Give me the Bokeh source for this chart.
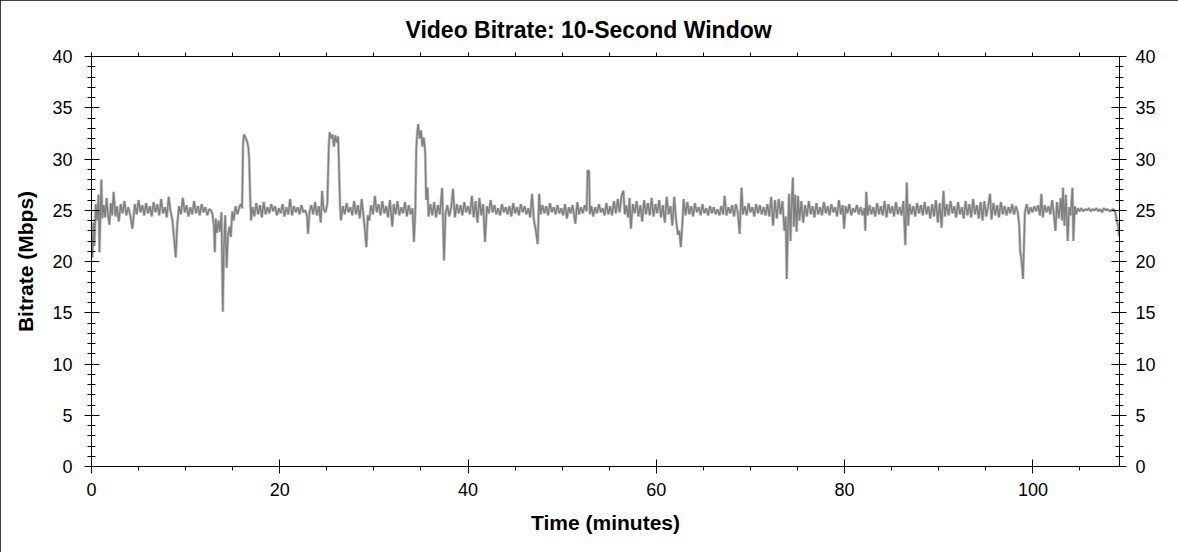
from bokeh.plotting import figure
from bokeh.models import LinearAxis, SingleIntervalTicker, FixedTicker, Range1d, Title
from bokeh.embed import file_html
from bokeh.resources import INLINE

# Time (minutes) and bitrate (Mbps)
minutes = [
    0.0, 0.1, 0.2, 0.3, 0.45, 0.6, 0.75, 0.85, 0.95, 1.05, 1.15, 1.3, 1.45, 1.6, 1.75, 1.9, 2.05, 2.2, 2.35, 2.55,
    2.7, 2.9, 3.1, 3.3, 3.5, 3.7, 3.9, 4.1, 4.35, 4.6, 4.8, 5.0, 5.2, 5.4, 5.6, 5.8, 6.0, 6.2, 6.4, 6.6,
    6.8, 7.0, 7.2, 7.4, 7.6, 7.8, 8.0, 8.2, 8.4, 8.6, 8.8, 8.95, 9.1, 9.3, 9.5, 9.7, 9.9, 10.1, 10.3, 10.5,
    10.7, 10.9, 11.1, 11.3, 11.5, 11.7, 11.9, 12.1, 12.3, 12.5, 12.7, 12.85, 13.0, 13.1, 13.2, 13.35, 13.5, 13.65, 13.8, 13.95,
    14.05, 14.2, 14.35, 14.5, 14.65, 14.8, 14.95, 15.1, 15.3, 15.5, 15.7, 15.85, 16.0, 16.1, 16.2, 16.35, 16.5, 16.65, 16.75, 16.85,
    16.95, 17.1, 17.3, 17.5, 17.7, 17.9, 18.1, 18.3, 18.5, 18.7, 18.9, 19.1, 19.3, 19.5, 19.7, 19.9, 20.1, 20.3, 20.5, 20.7,
    20.9, 21.1, 21.3, 21.5, 21.7, 21.9, 22.1, 22.3, 22.5, 22.7, 22.9, 23.0, 23.15, 23.35, 23.55, 23.75, 23.95, 24.15, 24.35, 24.5,
    24.65, 24.85, 25.05, 25.2, 25.3, 25.45, 25.6, 25.75, 25.9, 26.05, 26.2, 26.3, 26.4, 26.5, 26.7, 26.9, 27.1, 27.3, 27.5, 27.7,
    27.9, 28.1, 28.3, 28.5, 28.7, 28.9, 29.05, 29.2, 29.35, 29.5, 29.7, 29.9, 30.1, 30.3, 30.5, 30.7, 30.9, 31.1, 31.3, 31.5,
    31.7, 31.95, 32.1, 32.3, 32.5, 32.7, 32.9, 33.1, 33.3, 33.5, 33.7, 33.9, 34.1, 34.25, 34.4, 34.5, 34.6, 34.7, 34.85, 35.0,
    35.15, 35.3, 35.45, 35.55, 35.7, 35.8, 36.0, 36.2, 36.4, 36.6, 36.8, 37.0, 37.25, 37.45, 37.6, 37.8, 38.0, 38.2, 38.4, 38.6,
    38.8, 39.0, 39.2, 39.4, 39.6, 39.8, 40.0, 40.2, 40.4, 40.6, 40.8, 41.0, 41.2, 41.4, 41.6, 41.8, 42.0, 42.2, 42.4, 42.6,
    42.8, 43.0, 43.2, 43.4, 43.6, 43.8, 44.0, 44.2, 44.4, 44.6, 44.8, 45.0, 45.2, 45.4, 45.6, 45.8, 46.0, 46.2, 46.4, 46.6,
    46.8, 47.0, 47.2, 47.4, 47.55, 47.7, 47.9, 48.1, 48.3, 48.5, 48.7, 48.9, 49.1, 49.3, 49.5, 49.7, 49.9, 50.1, 50.3, 50.5,
    50.7, 50.9, 51.1, 51.4, 51.6, 51.8, 52.0, 52.2, 52.4, 52.6, 52.7, 52.85, 52.95, 53.1, 53.3, 53.5, 53.7, 53.9, 54.1, 54.3,
    54.5, 54.7, 54.9, 55.1, 55.3, 55.5, 55.7, 55.9, 56.1, 56.3, 56.5, 56.65, 56.8, 57.0, 57.15, 57.3, 57.5, 57.7, 57.9, 58.1,
    58.3, 58.5, 58.7, 58.9, 59.1, 59.3, 59.5, 59.7, 59.9, 60.1, 60.3, 60.5, 60.7, 60.9, 61.1, 61.3, 61.5, 61.7, 61.9, 62.1,
    62.3, 62.45, 62.6, 62.75, 62.9, 63.1, 63.3, 63.5, 63.7, 63.9, 64.1, 64.3, 64.5, 64.7, 64.9, 65.1, 65.3, 65.5, 65.7, 65.9,
    66.1, 66.3, 66.5, 66.7, 66.9, 67.1, 67.25, 67.45, 67.65, 67.85, 68.05, 68.25, 68.45, 68.65, 68.85, 69.05, 69.2, 69.4, 69.6, 69.8,
    70.0, 70.2, 70.4, 70.6, 70.8, 71.0, 71.2, 71.4, 71.6, 71.8, 72.0, 72.2, 72.4, 72.6, 72.8, 73.0, 73.2, 73.4, 73.6, 73.75,
    73.85, 73.95, 74.1, 74.25, 74.35, 74.5, 74.6, 74.75, 74.9, 75.05, 75.2, 75.4, 75.6, 75.8, 76.0, 76.2, 76.4, 76.6, 76.8, 77.0,
    77.2, 77.4, 77.6, 77.8, 78.0, 78.2, 78.4, 78.6, 78.8, 79.0, 79.2, 79.4, 79.6, 79.8, 79.95, 80.1, 80.3, 80.5, 80.7, 80.9,
    81.1, 81.3, 81.5, 81.7, 81.9, 82.1, 82.2, 82.3, 82.45, 82.65, 82.85, 83.05, 83.25, 83.45, 83.65, 83.85, 84.05, 84.25, 84.45, 84.65,
    84.85, 85.05, 85.25, 85.45, 85.65, 85.85, 86.05, 86.25, 86.45, 86.6, 86.75, 86.9, 87.1, 87.3, 87.5, 87.7, 87.9, 88.1, 88.3, 88.5,
    88.7, 88.9, 89.1, 89.3, 89.5, 89.7, 89.9, 90.1, 90.3, 90.5, 90.65, 90.85, 91.05, 91.25, 91.45, 91.65, 91.85, 92.05, 92.25, 92.45,
    92.65, 92.85, 93.05, 93.25, 93.45, 93.65, 93.85, 94.05, 94.25, 94.45, 94.65, 94.85, 95.05, 95.25, 95.45, 95.6, 95.8, 96.0, 96.2, 96.4,
    96.6, 96.8, 97.0, 97.2, 97.4, 97.6, 97.8, 98.0, 98.2, 98.4, 98.55, 98.65, 98.75, 98.85, 98.95, 99.05, 99.15, 99.35, 99.55, 99.75,
    99.95, 100.15, 100.35, 100.55, 100.75, 100.9, 101.05, 101.25, 101.45, 101.65, 101.85, 102.05, 102.25, 102.4, 102.55, 102.75, 102.95, 103.1, 103.2, 103.35,
    103.5, 103.7, 103.85, 104.0, 104.2, 104.3, 104.45, 104.6, 104.75, 104.95, 105.15, 105.35, 105.55, 105.75, 105.95, 106.15, 106.35, 106.55, 106.75, 106.95,
    107.15, 107.35, 107.55, 107.75, 107.95, 108.15, 108.35, 108.55, 108.75, 108.9, 109.05, 109.15,
]

mbps = [
    22.5, 20.4, 23.8, 21.5, 25.6, 24.0, 26.5, 20.9, 25.0, 28.0, 24.2, 25.5, 24.3, 26.2, 24.6, 23.6, 25.7, 24.5, 26.8, 24.4,
    25.4, 23.9, 25.6, 24.7, 25.9, 24.5, 25.3, 24.6, 23.2, 25.6, 24.6, 26.0, 24.8, 25.5, 24.5, 25.7, 24.7, 25.4, 24.4, 25.8,
    24.8, 25.6, 24.5, 26.1, 24.7, 25.3, 24.3, 26.3, 24.9, 24.0, 22.0, 20.4, 23.5, 25.4, 24.6, 26.2, 24.8, 25.5, 24.4, 25.3,
    24.6, 25.9, 24.7, 25.4, 24.5, 25.6, 24.8, 25.3, 24.5, 25.1, 25.0, 24.6, 23.5, 20.9, 24.2, 22.8, 24.0, 22.9, 24.8, 15.1,
    21.0, 24.5, 19.4, 22.5, 23.4, 22.4, 24.9, 24.0, 25.4, 24.6, 25.3, 25.6, 25.2, 31.5, 32.4, 32.1, 31.8, 31.2, 30.0, 26.5,
    24.0, 25.3, 24.4, 25.7, 24.6, 25.5, 24.3, 25.8, 24.6, 25.3, 24.7, 25.6, 24.9, 25.4, 24.5, 25.2, 24.7, 25.6, 24.4, 25.3,
    24.6, 26.1, 24.5, 25.4, 24.8, 25.3, 24.6, 25.5, 24.8, 25.0, 24.4, 22.7, 24.8, 25.5, 24.6, 25.8, 24.5, 25.4, 23.8, 26.9,
    25.1, 24.8, 25.6, 31.0, 32.6, 32.0, 32.4, 31.2, 32.3, 31.6, 32.2, 29.0, 25.5, 24.0, 25.4, 24.6, 25.7, 24.8, 25.3, 24.5,
    25.9, 24.6, 25.5, 24.2, 26.1, 24.4, 23.0, 21.4, 24.5, 24.0, 25.5, 24.6, 26.4, 24.8, 25.6, 24.5, 25.9, 24.7, 25.4, 24.3,
    26.0, 23.4, 25.6, 24.6, 25.9, 24.5, 25.3, 24.7, 25.8, 24.4, 25.5, 24.6, 25.2, 21.9, 25.0, 31.0, 32.5, 33.4, 32.0, 32.8,
    31.2, 32.1, 30.6, 26.0, 27.2, 24.4, 25.6, 24.5, 25.8, 24.3, 25.5, 24.6, 27.2, 20.1, 24.6, 25.5, 24.4, 25.2, 27.1, 24.3,
    25.6, 24.7, 25.5, 24.5, 25.8, 24.8, 25.4, 24.6, 26.4, 24.3, 25.9, 23.8, 26.2, 24.5, 25.6, 21.9, 25.4, 24.7, 26.0, 24.8,
    25.5, 24.6, 25.2, 24.5, 25.6, 24.8, 25.3, 24.6, 25.4, 24.4, 25.7, 24.7, 25.3, 24.5, 25.6, 24.8, 25.4, 24.6, 25.2, 24.3,
    26.6, 24.0, 23.0, 21.7, 26.6, 24.6, 25.5, 24.7, 25.4, 24.5, 25.7, 24.8, 25.3, 24.6, 25.5, 24.7, 25.2, 24.5, 25.6, 24.2,
    25.3, 24.7, 25.5, 23.7, 25.8, 24.6, 25.3, 24.7, 25.5, 24.9, 28.9, 28.8, 24.6, 25.4, 24.4, 25.3, 24.7, 25.6, 24.8, 25.2,
    24.5, 25.7, 24.6, 25.4, 24.5, 25.9, 24.7, 26.1, 24.8, 26.4, 26.9, 24.6, 25.5, 24.3, 26.2, 23.2, 25.6, 24.7, 25.9, 24.4,
    25.5, 23.9, 26.0, 24.6, 25.7, 24.5, 26.2, 24.4, 25.6, 24.7, 26.0, 24.3, 25.5, 23.8, 26.3, 24.6, 25.4, 23.5, 26.3, 24.0,
    22.6, 23.0, 21.4, 23.5, 26.1, 24.5, 25.8, 24.6, 25.4, 24.4, 25.7, 24.8, 25.3, 24.5, 25.6, 24.7, 25.2, 24.5, 25.4, 24.7,
    25.3, 24.6, 25.1, 24.5, 25.4, 24.6, 26.4, 24.5, 25.3, 24.7, 25.5, 24.4, 25.6, 24.8, 22.7, 27.2, 24.6, 25.4, 24.5, 25.7,
    24.8, 25.3, 24.4, 25.6, 24.7, 25.5, 24.6, 25.3, 24.5, 25.6, 24.4, 26.3, 23.5, 26.0, 24.2, 26.1, 24.6, 25.9, 23.0, 24.4,
    18.3, 22.5, 26.6, 22.0, 25.3, 28.2, 23.4, 26.5, 22.9, 26.4, 24.0, 25.9, 23.8, 25.5, 24.4, 25.9, 24.6, 25.4, 24.3, 25.7,
    24.6, 25.3, 24.5, 25.8, 24.7, 25.4, 24.5, 25.6, 24.8, 25.3, 24.4, 26.0, 24.6, 25.5, 23.2, 25.4, 24.7, 25.6, 24.5, 25.2,
    24.8, 25.5, 24.6, 25.3, 24.5, 25.2, 23.0, 26.8, 24.5, 25.5, 24.6, 25.3, 24.4, 25.7, 24.6, 25.4, 24.5, 25.9, 24.3, 25.6,
    24.7, 25.4, 24.4, 25.8, 24.6, 25.3, 24.5, 25.9, 21.6, 27.7, 23.5, 25.6, 24.6, 25.4, 24.4, 25.7, 24.7, 25.5, 24.5, 25.8,
    24.6, 25.4, 24.2, 25.6, 24.4, 26.0, 23.8, 25.7, 23.3, 26.9, 24.4, 25.6, 24.5, 25.9, 24.7, 25.4, 24.3, 25.8, 24.6, 25.3,
    24.2, 25.9, 24.5, 25.6, 24.3, 26.1, 24.6, 25.5, 24.2, 25.8, 24.0, 25.9, 24.4, 25.4, 26.6, 24.1, 25.7, 24.5, 25.5, 24.3,
    25.8, 24.6, 25.4, 24.5, 25.3, 24.7, 25.6, 24.6, 25.4, 24.8, 23.5, 21.0, 20.4, 19.5, 18.3, 21.5, 24.8, 25.6, 24.6, 25.3,
    24.8, 25.4, 24.9, 25.5, 24.5, 26.6, 24.3, 25.5, 24.8, 25.4, 24.6, 26.0, 24.4, 23.0, 25.8, 24.2, 26.2, 24.0, 27.2, 23.5,
    26.5, 22.0, 25.3, 24.5, 27.2, 22.0, 25.4, 24.6, 25.2, 24.9, 25.2, 24.9, 25.1, 25.0, 25.2, 24.9, 25.1, 25.0, 25.2, 24.9,
    25.1, 24.8, 25.2, 25.0, 25.1, 24.9, 25.0, 25.1, 24.8, 24.0, 23.5, 22.5,
]

x_major_ticks = [0, 20, 40, 60, 80, 100]
x_minor_ticks = [0, 5, 10, 15, 20, 25, 30, 35, 40, 45, 50, 55, 60, 65, 70, 75, 80, 85, 90, 95, 100, 105]

title_text = "Video Bitrate: 10-Second Window"
x_label = "Time (minutes)"
y_label = "Bitrate (Mbps)"

FONT = "Liberation Sans"

p = figure(width=1178, height=552, output_backend="svg", toolbar_location=None,
           x_range=Range1d(0, 109.2), y_range=Range1d(0, 40),
           min_border_left=91, min_border_right=59, min_border_top=56, min_border_bottom=86,
           x_axis_location=None, y_axis_location=None)
p.title = None
p.grid.visible = False
p.outline_line_color = None
p.background_fill_color = "white"
p.border_fill_color = "white"
p.styles = {"outline": "1px solid black", "outline-offset": "-1px"}

p.line(minutes, mbps, line_color="#c8c8c8", line_width=3)
p.line(minutes, mbps, line_color="#808080", line_width=1.5)

def style_axis(ax):
    ax.axis_line_color = "black"
    ax.axis_line_width = 1
    ax.major_tick_line_color = "black"
    ax.minor_tick_line_color = "black"
    ax.major_tick_in = 7
    ax.major_tick_out = 7
    ax.minor_tick_in = 0
    ax.minor_tick_out = 4
    ax.major_label_text_font = FONT
    ax.major_label_text_font_size = "18px"
    ax.major_label_text_color = "black"
    ax.axis_label_text_font = FONT
    ax.axis_label_text_font_style = "bold"
    ax.axis_label_text_font_size = "21px"
    ax.axis_label_text_color = "black"

xt = FixedTicker(ticks=x_major_ticks, minor_ticks=x_minor_ticks)
yt = SingleIntervalTicker(interval=5, num_minor_ticks=5)

bottom = LinearAxis(ticker=xt, axis_label=x_label)
style_axis(bottom)
bottom.major_label_standoff = 9
bottom.axis_label_standoff = 12
p.add_layout(bottom, "below")

# top frame line with outward ticks only (no labels)
top = LinearAxis(ticker=FixedTicker(ticks=[], minor_ticks=x_minor_ticks))
style_axis(top)
top.major_tick_out = 0
top.major_tick_in = 0
top.major_label_standoff = 0
p.add_layout(top, "above")

left = LinearAxis(ticker=yt, axis_label=y_label)
style_axis(left)
left.minor_tick_in = 4
left.major_tick_in = 8
left.major_label_standoff = 12
left.axis_label_standoff = 12
p.add_layout(left, "left")

right = LinearAxis(ticker=yt)
style_axis(right)
right.minor_tick_in = 4
right.major_tick_in = 8
right.major_label_standoff = 9
p.add_layout(right, "right")

p.add_layout(Title(text=title_text, align="left", text_font=FONT, text_font_style="bold",
                   text_font_size="23px", text_color="black", offset=314, standoff=19), "above")

open("out.html", "w").write(file_html(p, INLINE))
